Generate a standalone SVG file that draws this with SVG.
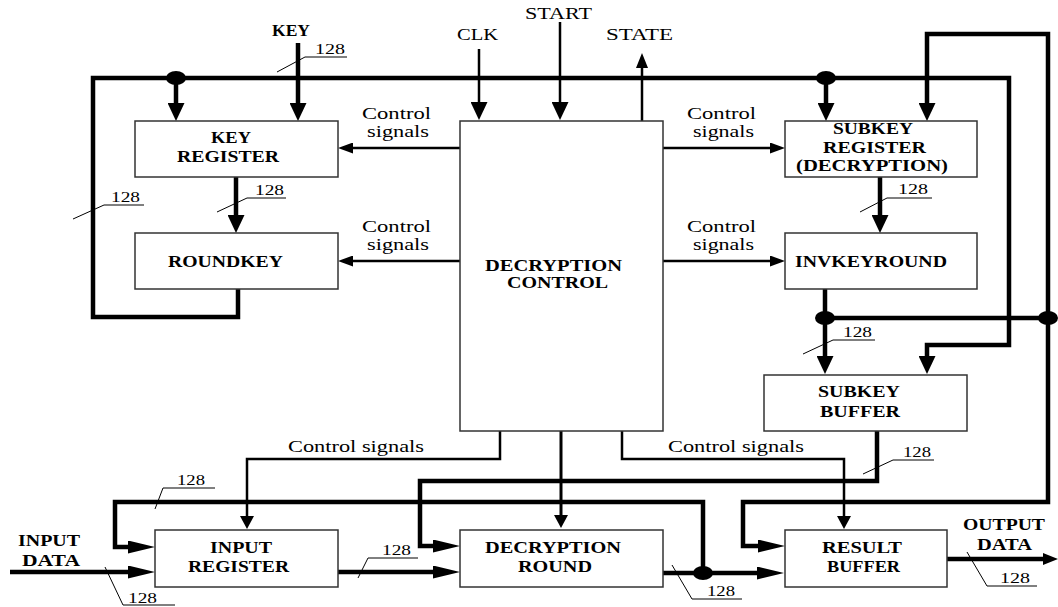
<svg xmlns="http://www.w3.org/2000/svg" width="1058" height="607" viewBox="0 0 1058 607">
<style>
.box{fill:#fff;stroke:#333;stroke-width:1.5}
.b{font-family:"Liberation Serif",serif;font-weight:bold;font-size:16px;fill:#000}
.r{font-family:"Liberation Serif",serif;font-size:16px;fill:#000}
.n{font-family:"Liberation Serif",serif;font-size:15px;fill:#000}
.bus{fill:none;stroke:#000;stroke-width:4.5}
.sig{fill:none;stroke:#000;stroke-width:2.5}
.mid{fill:none;stroke:#000;stroke-width:3}
.ld{fill:none;stroke:#000;stroke-width:1}
.dot{fill:#000}
</style>
<defs>
<marker id="big" markerUnits="userSpaceOnUse" markerWidth="18" markerHeight="17" refX="0" refY="8.5" orient="auto"><path d="M0,0 L18,8.5 L0,17 z" fill="#000"/></marker>
<marker id="long" markerUnits="userSpaceOnUse" markerWidth="27" markerHeight="13" refX="0" refY="6.5" orient="auto"><path d="M0,0 L27,6.5 L0,13 z" fill="#000"/></marker>
<marker id="ctl" markerUnits="userSpaceOnUse" markerWidth="15" markerHeight="11" refX="0" refY="5.5" orient="auto"><path d="M0,0 L15,5.5 L0,11 z" fill="#000"/></marker>
<marker id="sm" markerUnits="userSpaceOnUse" markerWidth="13" markerHeight="14" refX="0" refY="7" orient="auto"><path d="M0,0 L13,7 L0,14 z" fill="#000"/></marker>
<marker id="out" markerUnits="userSpaceOnUse" markerWidth="15" markerHeight="12" refX="0" refY="6" orient="auto"><path d="M0,0 L15,6 L0,12 z" fill="#000"/></marker>
</defs>

<g id="connectors">
<path class="bus" d="M238,289 V317 H93 V78 H1009 V345 H927 V356" marker-end="url(#big)"/>
<path class="bus" d="M176,78 V103" marker-end="url(#big)"/>
<path class="bus" d="M298,43 V103" marker-end="url(#big)"/>
<path class="bus" d="M826,78 V103" marker-end="url(#big)"/>
<path class="bus" d="M236,177 V215" marker-end="url(#big)"/>
<path class="bus" d="M880,177 V215" marker-end="url(#big)"/>
<path class="bus" d="M825,289 V356" marker-end="url(#big)"/>
<path class="bus" d="M825,318 H1048"/>
<path class="bus" d="M1048,318 V34 H927 V103" marker-end="url(#big)"/>
<path class="bus" d="M1048,318 V502 H743 V546 H758" marker-end="url(#long)"/>
<path class="bus" d="M877,431 V481 H420 V546 H433" marker-end="url(#long)"/>
<path class="bus" d="M10,572 H128" marker-end="url(#long)"/>
<path class="bus" d="M338,572 H433" marker-end="url(#long)"/>
<path class="bus" d="M663,573 H757" marker-end="url(#long)"/>
<path class="bus" d="M703,573 V502 H115 V547 H128" marker-end="url(#long)"/>
<path class="bus" d="M947,559 H1043" marker-end="url(#out)"/>
<path class="sig" d="M460,148 H353" marker-end="url(#ctl)"/>
<path class="sig" d="M460,261 H353" marker-end="url(#ctl)"/>
<path class="sig" d="M663,148 H770" marker-end="url(#ctl)"/>
<path class="sig" d="M663,261 H770" marker-end="url(#ctl)"/>
<path class="sig" d="M479,49 V102" marker-end="url(#big)"/>
<path class="sig" d="M560,22 V102" marker-end="url(#big)"/>
<path class="sig" d="M642,121 V68" marker-end="url(#out)"/>
<path class="sig" d="M500,431 V459 H247 V516" marker-end="url(#sm)"/>
<path class="mid" d="M561,431 V515" marker-end="url(#sm)"/>
<path class="sig" d="M622,431 V459 H844 V516" marker-end="url(#sm)"/>
<ellipse class="dot" cx="176" cy="78" rx="10" ry="7"/>
<ellipse class="dot" cx="826" cy="78" rx="10" ry="7"/>
<ellipse class="dot" cx="825" cy="318" rx="10" ry="7"/>
<ellipse class="dot" cx="1048" cy="318" rx="10" ry="7"/>
<ellipse class="dot" cx="703" cy="573" rx="10" ry="7"/>
<polyline class="ld" points="277,72 305,57 347,57"/>
<text class="n" x="315" y="54" textLength="30" lengthAdjust="spacingAndGlyphs">128</text>
<polyline class="ld" points="217,212 247,198 286,198"/>
<text class="n" x="255" y="195" textLength="29" lengthAdjust="spacingAndGlyphs">128</text>
<polyline class="ld" points="73,219 104,205 144,205"/>
<text class="n" x="111" y="202" textLength="29" lengthAdjust="spacingAndGlyphs">128</text>
<polyline class="ld" points="860,212 887,198 932,198"/>
<text class="n" x="898" y="194" textLength="30" lengthAdjust="spacingAndGlyphs">128</text>
<polyline class="ld" points="803,354 833,340 875,340"/>
<text class="n" x="843" y="337" textLength="29" lengthAdjust="spacingAndGlyphs">128</text>
<polyline class="ld" points="863,474 893,460 934,460"/>
<text class="n" x="903" y="457" textLength="28" lengthAdjust="spacingAndGlyphs">128</text>
<polyline class="ld" points="155,509 163,488 215,488"/>
<text class="n" x="177" y="485" textLength="28" lengthAdjust="spacingAndGlyphs">128</text>
<polyline class="ld" points="105,567 123,605 175,605"/>
<text class="n" x="128" y="603" textLength="29" lengthAdjust="spacingAndGlyphs">128</text>
<polyline class="ld" points="358,578 368,558 418,558"/>
<text class="n" x="382" y="555" textLength="29" lengthAdjust="spacingAndGlyphs">128</text>
<polyline class="ld" points="672,565 692,599 742,599"/>
<text class="n" x="707" y="596" textLength="28" lengthAdjust="spacingAndGlyphs">128</text>
<polyline class="ld" points="967,552 987,586 1037,586"/>
<text class="n" x="1000" y="583" textLength="30" lengthAdjust="spacingAndGlyphs">128</text>
<text class="r" x="362" y="119" textLength="69" lengthAdjust="spacingAndGlyphs">Control</text>
<text class="r" x="367" y="137" textLength="62" lengthAdjust="spacingAndGlyphs">signals</text>
<text class="r" x="362" y="232" textLength="69" lengthAdjust="spacingAndGlyphs">Control</text>
<text class="r" x="367" y="250" textLength="62" lengthAdjust="spacingAndGlyphs">signals</text>
<text class="r" x="687" y="119" textLength="69" lengthAdjust="spacingAndGlyphs">Control</text>
<text class="r" x="693" y="137" textLength="61" lengthAdjust="spacingAndGlyphs">signals</text>
<text class="r" x="687" y="232" textLength="69" lengthAdjust="spacingAndGlyphs">Control</text>
<text class="r" x="693" y="250" textLength="61" lengthAdjust="spacingAndGlyphs">signals</text>
<text class="r" x="288" y="452" textLength="136" lengthAdjust="spacingAndGlyphs">Control signals</text>
<text class="r" x="668" y="452" textLength="136" lengthAdjust="spacingAndGlyphs">Control signals</text>
</g>

<g id="io-labels">
<text class="b" x="272" y="36" font-size="13" textLength="38" lengthAdjust="spacingAndGlyphs">KEY</text>
<text class="r" x="457" y="40" textLength="41" lengthAdjust="spacingAndGlyphs">CLK</text>
<text class="r" x="525" y="19" textLength="67" lengthAdjust="spacingAndGlyphs">START</text>
<text class="r" x="606" y="40" textLength="67" lengthAdjust="spacingAndGlyphs">STATE</text>
<text class="b" x="18" y="546" textLength="62" lengthAdjust="spacingAndGlyphs">INPUT</text>
<text class="b" x="22" y="566" textLength="58" lengthAdjust="spacingAndGlyphs">DATA</text>
<text class="b" x="963" y="530" textLength="82" lengthAdjust="spacingAndGlyphs">OUTPUT</text>
<text class="b" x="977" y="550" textLength="55" lengthAdjust="spacingAndGlyphs">DATA</text>
</g>

<g id="key-register">
<rect class="box" x="135" y="121" width="203" height="56"/>
<text class="b" x="211" y="143" textLength="40" lengthAdjust="spacingAndGlyphs">KEY</text>
<text class="b" x="177" y="162" textLength="102" lengthAdjust="spacingAndGlyphs">REGISTER</text>
</g>
<g id="roundkey">
<rect class="box" x="135" y="233" width="203" height="56"/>
<text class="b" x="168" y="267" textLength="115" lengthAdjust="spacingAndGlyphs">ROUNDKEY</text>
</g>
<g id="decryption-control">
<rect class="box" x="460" y="121" width="203" height="310"/>
<text class="b" x="485" y="271" textLength="137" lengthAdjust="spacingAndGlyphs">DECRYPTION</text>
<text class="b" x="507" y="288" textLength="101" lengthAdjust="spacingAndGlyphs">CONTROL</text>
</g>
<g id="subkey-register">
<rect class="box" x="785" y="121" width="192" height="56"/>
<text class="b" x="833" y="134" textLength="80" lengthAdjust="spacingAndGlyphs">SUBKEY</text>
<text class="b" x="823" y="153" textLength="103" lengthAdjust="spacingAndGlyphs">REGISTER</text>
<text class="b" x="796" y="171" textLength="152" lengthAdjust="spacingAndGlyphs">(DECRYPTION)</text>
</g>
<g id="invkeyround">
<rect class="box" x="785" y="233" width="192" height="56"/>
<text class="b" x="795" y="267" textLength="152" lengthAdjust="spacingAndGlyphs">INVKEYROUND</text>
</g>
<g id="subkey-buffer">
<rect class="box" x="764" y="375" width="203" height="56"/>
<text class="b" x="818" y="397" textLength="82" lengthAdjust="spacingAndGlyphs">SUBKEY</text>
<text class="b" x="820" y="417" textLength="80" lengthAdjust="spacingAndGlyphs">BUFFER</text>
</g>
<g id="input-register">
<rect class="box" x="155" y="530" width="183" height="57"/>
<text class="b" x="210" y="553" textLength="62" lengthAdjust="spacingAndGlyphs">INPUT</text>
<text class="b" x="188" y="572" textLength="101" lengthAdjust="spacingAndGlyphs">REGISTER</text>
</g>
<g id="decryption-round">
<rect class="box" x="460" y="530" width="203" height="57"/>
<text class="b" x="485" y="553" textLength="136" lengthAdjust="spacingAndGlyphs">DECRYPTION</text>
<text class="b" x="518" y="572" textLength="74" lengthAdjust="spacingAndGlyphs">ROUND</text>
</g>
<g id="result-buffer">
<rect class="box" x="785" y="530" width="162" height="57"/>
<text class="b" x="822" y="553" textLength="80" lengthAdjust="spacingAndGlyphs">RESULT</text>
<text class="b" x="827" y="572" textLength="73" lengthAdjust="spacingAndGlyphs">BUFFER</text>
</g>
</svg>
